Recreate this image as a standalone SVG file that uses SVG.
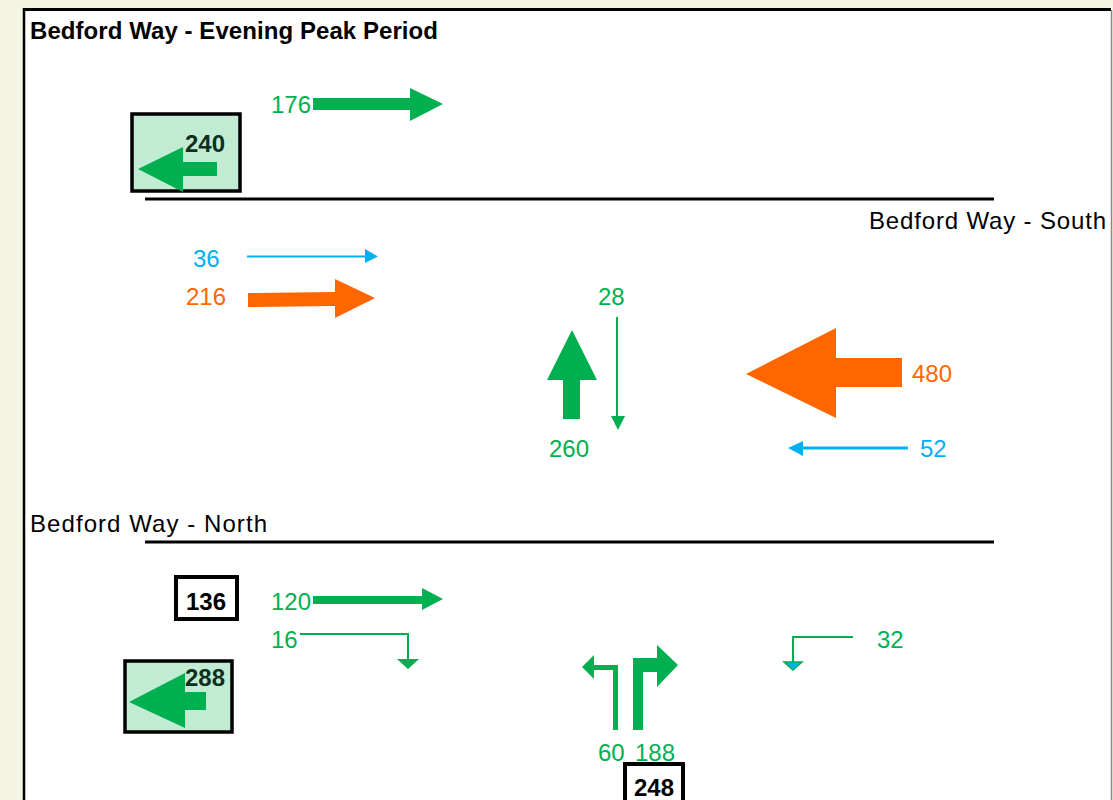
<svg xmlns="http://www.w3.org/2000/svg" width="1113" height="800" viewBox="0 0 1113 800">
<style>
.t{font-family:"Liberation Sans",Arial,sans-serif;font-size:24px}
.b{font-family:"Liberation Sans",Arial,sans-serif;font-size:24px;font-weight:bold}
.g{fill:#00b050}.o{fill:#ff6600}.bl{fill:#00b0f0}.k{fill:#000}.dk{fill:#0f2f1c}
.road{stroke:#000;stroke-width:3}
.box{fill:#fff;stroke:#000;stroke-width:4}
.gbox{fill:#c1ebd3;stroke:#000;stroke-width:3.5}
</style>
<rect x="0" y="0" width="1113" height="800" fill="#f3f4e2"/>
<rect x="24" y="9" width="1088" height="800" fill="#fff"/>
<line x1="24" y1="9.5" x2="1111" y2="9.5" stroke="#000" stroke-width="3"/>
<line x1="24" y1="8" x2="24" y2="800" stroke="#000" stroke-width="2.5"/>
<line x1="1111.5" y1="10" x2="1111.5" y2="800" stroke="#888" stroke-width="1.5"/>
<text class="b k" x="30" y="39" textLength="408">Bedford Way - Evening Peak Period</text>
<g id="roads">
<line class="road" x1="145" y1="199" x2="994" y2="199"/>
<line class="road" x1="145" y1="542" x2="994" y2="542"/>
<text class="t k" x="869" y="229" textLength="237">Bedford Way - South</text>
<text class="t k" x="30" y="532" textLength="237">Bedford Way - North</text>
</g>
<g id="node-240">
<rect class="gbox" x="132" y="114" width="108" height="77"/>
<polygon class="g" points="138,169 183,147 183,162 217,162 217,176 183,176 183,192"/>
<text class="b dk" x="225" y="152" text-anchor="end">240</text>
</g>
<g id="node-136">
<rect class="box" x="176" y="577" width="61" height="42"/>
<text class="b k" x="206" y="610" text-anchor="middle">136</text>
</g>
<g id="node-288">
<rect class="gbox" x="125" y="661" width="107" height="71"/>
<polygon class="g" points="129,702 185,673 185,692 206,692 206,710 185,710 185,728"/>
<text class="b dk" x="225" y="686" text-anchor="end">288</text>
</g>
<g id="node-248">
<rect class="box" x="625" y="764" width="58" height="50"/>
<text class="b k" x="654" y="796" text-anchor="middle">248</text>
</g>
<g id="connectors">
<polygon class="g" points="313,98 410,98 410,88 443,104 410,121 410,110 313,110"/>
<line x1="247" y1="256.5" x2="366" y2="256.5" stroke="#00b0f0" stroke-width="2"/>
<polygon class="bl" points="365,249 378,256.5 365,263"/>
<polygon class="o" points="248,293 335,292 335,279 375,298 335,318 335,306 248,307"/>
<line x1="617" y1="317" x2="617" y2="418" stroke="#00b050" stroke-width="2"/>
<polygon class="g" points="611,416 625,416 618,430"/>
<polygon class="g" points="572,330 597,380 580,380 580,419 563,419 563,380 547,380"/>
<polygon class="o" points="746,374 836,328 836,358 902,358 902,387 836,387 836,418"/>
<line x1="908" y1="448" x2="800" y2="448" stroke="#00b0f0" stroke-width="3"/>
<polygon class="bl" points="788,448 803,441 803,456"/>
<polygon class="g" points="313,596 422,596 422,588 443,599 422,610 422,604 313,604"/>
<polyline points="300,634 408,634 408,660" fill="none" stroke="#00b050" stroke-width="2"/>
<polygon class="g" points="397,659 419,659 408,669"/>
<polyline points="615.5,730 615.5,667.5 592,667.5" fill="none" stroke="#00b050" stroke-width="5"/>
<polygon class="g" points="582,667 594,655 594,679"/>
<polygon class="g" points="633,730 633,658 657,658 657,645 678,665 657,687 657,672 643,672 643,730"/>
<polyline points="853,637 793,637 793,662" fill="none" stroke="#00b050" stroke-width="2"/>
<polygon points="784,662 802,662 793,670" fill="#00b0f0" stroke="#00b050" stroke-width="1.5"/>
</g>
<g id="labels">
<text class="t g" x="271" y="113">176</text>
<text class="t bl" x="193" y="267">36</text>
<text class="t o" x="186" y="305">216</text>
<text class="t g" x="598" y="305">28</text>
<text class="t g" x="549" y="457">260</text>
<text class="t o" x="912" y="382">480</text>
<text class="t bl" x="920" y="457">52</text>
<text class="t g" x="271" y="610">120</text>
<text class="t g" x="271" y="648">16</text>
<text class="t g" x="598" y="761">60</text>
<text class="t g" x="635" y="761">188</text>
<text class="t g" x="877" y="648">32</text>
</g>
</svg>
